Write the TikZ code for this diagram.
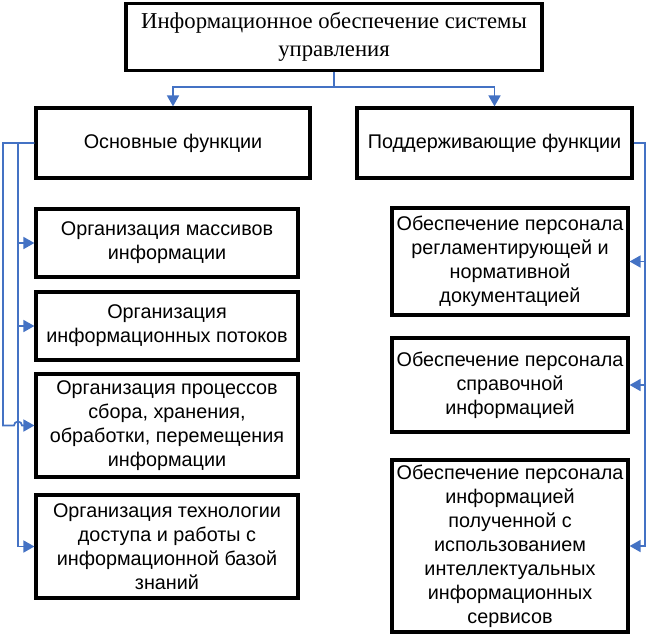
\documentclass[tikz,border=0pt]{standalone}
\usepackage{fontspec}
\setmainfont{Liberation Sans}
\newfontfamily\seriffont{Liberation Serif}
\usetikzlibrary{arrows.meta}
\definecolor{conncol}{HTML}{4472C4}
\begin{document}
\begin{tikzpicture}[x=1pt,y=-1pt,
  box/.style={draw=black, line width=3.2pt, align=center, inner sep=0pt,
    font=\fontsize{19.8}{24}\selectfont},
  topbox/.style={box, font=\seriffont\fontsize{22.7}{28}\selectfont},
  conn/.style={draw=conncol, line width=1.7pt},
  arr/.style={conn, -{Triangle[length=11pt,width=12pt]}}]
\useasboundingbox (0,0) rectangle (649,638);

\node[topbox, minimum width=416, minimum height=67] (top) at (334,37)
  {Информационное обеспечение системы\\управления};
\node[box, minimum width=274, minimum height=70] (osn) at (173,143) {Основные функции};
\node[box, minimum width=275, minimum height=70] (pod) at (494.5,143) {Поддерживающие функции};

\node[box, minimum width=262, minimum height=68] (l1) at (167,243)
  {Организация массивов\\информации};
\node[box, minimum width=262, minimum height=68] (l2) at (167,326)
  {Организация\\информационных потоков};
\node[box, minimum width=262, minimum height=103] (l3) at (167,425.5)
  {Организация процессов\\сбора, хранения,\\обработки, перемещения\\информации};
\node[box, minimum width=262, minimum height=103] (l4) at (167,546.5)
  {Организация технологии\\доступа и работы с\\информационной базой\\знаний};

\node[box, minimum width=236, minimum height=107] (r1) at (510,261.5)
  {Обеспечение персонала\\регламентирующей и\\нормативной\\документацией};
\node[box, minimum width=236, minimum height=94] (r2) at (510,385)
  {Обеспечение персонала\\справочной\\информацией};
\node[box, minimum width=236, minimum height=172] (r3) at (510,546)
  {Обеспечение персонала\\информацией\\полученной с\\использованием\\интеллектуальных\\информационных\\сервисов};

\coordinate (hb) at (333,87);
\coordinate (lx) at (18,143);
\coordinate (lxx) at (3,143);
\coordinate (rx) at (645,143);

\draw[arr] (top.south) -- (top.south |- hb) -| (osn.north);
\draw[arr] (top.south) -- (top.south |- hb) -| (pod.north);

\draw[arr] (osn.west) -- (lx) |- (l1.west);
\draw[arr] (osn.west) -- (lx) |- (l2.west);
\draw[arr] (osn.west) -- (lx) |- (l4.west);
\draw[arr] (osn.west) -- (lxx) -- (lxx |- l3.west) -- ([xshift=-4pt]lx |- l3.west)
  arc[start angle=180, end angle=0, radius=4pt] -- (l3.west);

\draw[arr] (pod.east) -- (rx) |- (r1.east);
\draw[arr] (pod.east) -- (rx) |- (r2.east);
\draw[arr] (pod.east) -- (rx) |- (r3.east);
\end{tikzpicture}
\end{document}
